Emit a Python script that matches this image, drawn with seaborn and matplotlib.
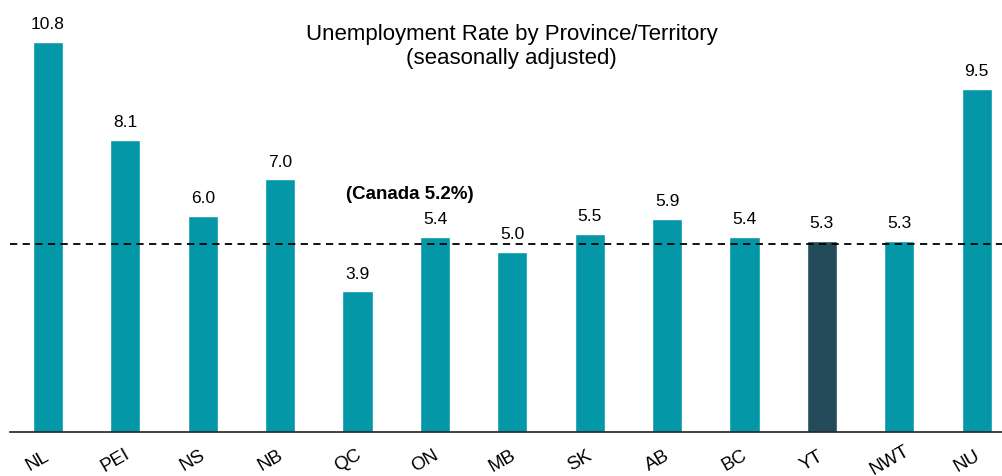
import pandas as pd
import matplotlib.pyplot as plt
import matplotlib.transforms as mtransforms
import seaborn as sns

provinces = ["NL", "PEI", "NS", "NB", "QC", "ON", "MB", "SK", "AB", "BC", "YT", "NWT", "NU"]
rates = [10.8, 8.1, 6.0, 7.0, 3.9, 5.4, 5.0, 5.5, 5.9, 5.4, 5.3, 5.3, 9.5]
canada_rate = 5.2

teal = "#0397a7"
dark = "#244b5a"
bar_colors = [dark if p == "YT" else teal for p in provinces]

df = pd.DataFrame({"Province": provinces, "Rate": rates})

sns.set_style("white")
plt.rcParams['font.family'] = ['Liberation Sans', 'DejaVu Sans']
plt.rcParams['text.color'] = 'black'
plt.rcParams['xtick.color'] = 'black'

fig = plt.figure(figsize=(10.03, 4.77), dpi=100)
ax = fig.add_axes([0.01, 0.092, 0.99, 0.908])

sns.barplot(data=df, x="Province", y="Rate", hue="Province", palette=bar_colors,
            legend=False, width=0.39, ax=ax, saturation=1)

# 数值标签
for i, v in enumerate(rates):
    ax.text(i, v + 0.3, f"{v:.1f}", ha="center", va="bottom", fontsize=12.5)

# 全国平均线
ax.axhline(canada_rate, color="black", linestyle=(0, (4, 3)), linewidth=1.3)
ax.text(4.68, 6.6, f"(Canada {canada_rate}%)", ha="center", va="center",
        fontsize=13.5, fontweight="bold")

ax.set_xlim(-0.49, 12.34)
ax.set_ylim(0, 12)
ax.set_yticks([])
ax.set_xlabel("")
ax.set_ylabel("")
ax.tick_params(axis="x", length=0, labelsize=13.5, pad=20)
plt.setp(ax.get_xticklabels(), rotation=30, ha="center", va="center")
# 标签稍微左移
offset = mtransforms.ScaledTranslation(-10 / 100, 0, fig.dpi_scale_trans)
for lab in ax.get_xticklabels():
    lab.set_transform(lab.get_transform() + offset)

for s in ["top", "right", "left"]:
    ax.spines[s].set_visible(False)
ax.spines["bottom"].set_color("#222222")
ax.spines["bottom"].set_linewidth(1.2)

ax.text(0.505, 0.893, "Unemployment Rate by Province/Territory\n(seasonally adjusted)",
        transform=ax.transAxes, ha="center", va="center", fontsize=16, linespacing=1.15)

plt.savefig("out.png", dpi=100)
plt.close()
